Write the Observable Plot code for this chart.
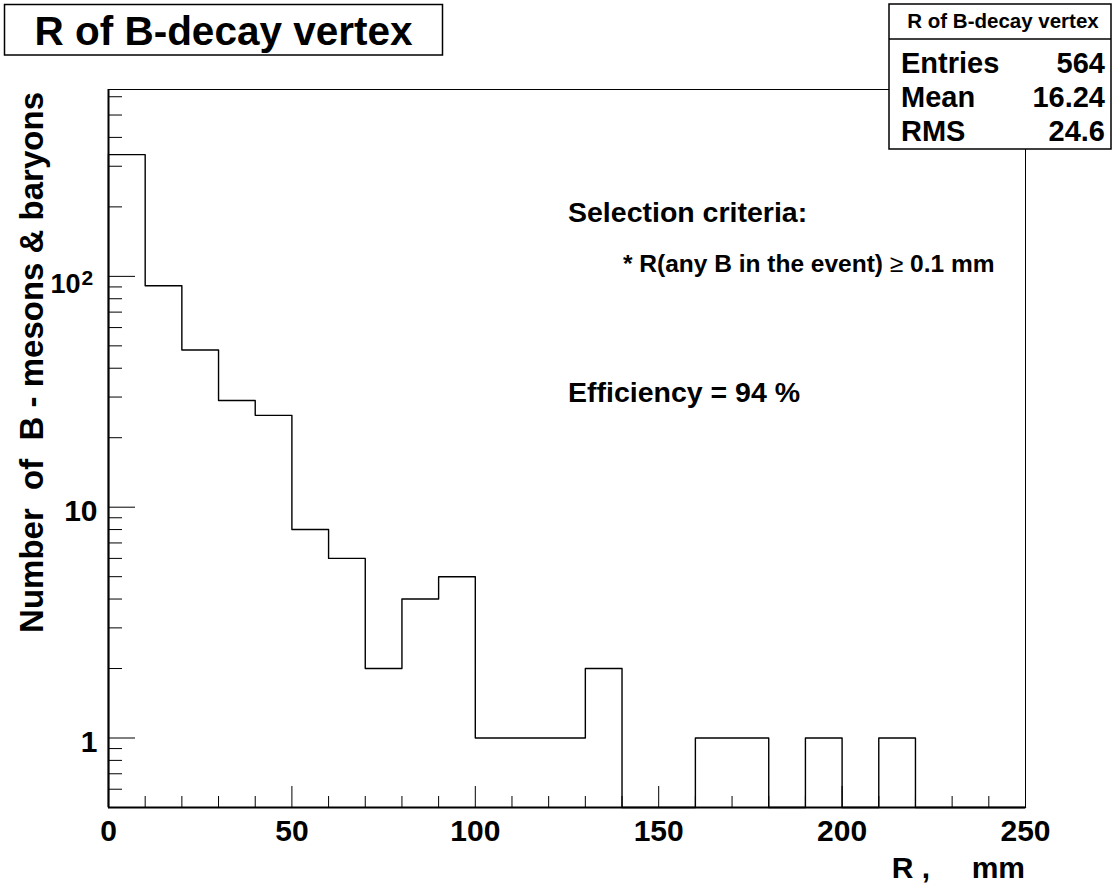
<!DOCTYPE html>
<html><head><meta charset="utf-8">
<script src="https://cdn.jsdelivr.net/npm/d3@7"></script>
<script src="https://cdn.jsdelivr.net/npm/@observablehq/plot@0.6"></script>
<style>body{margin:0;background:#fff} svg{display:block}</style>
</head><body><div id="chart"></div>
<script>
// ---- data ----
const binEdges = [0,10,20,30,40,50,60,70,80,90,100,110,120,130,140,150,160,170,180,190,200,210,220,230,240,250];
const counts   = [337,91,48,29,25,8,6,2,4,5,1,1,1,2,0,0,1,1,0,1,0,1,0,0,0];
const xTickValues = [0,50,100,150,200,250];
const xMinorTicks = [10,20,30,40,60,70,80,90,110,120,130,140,160,170,180,190,210,220,230,240];
const yTickValues = [1,10,100];
const yTickLabels = ["1","10","10"];
const yTickSup    = ["","","2"];
const yMinorTicks = [0.6,0.7,0.8,0.9,2,3,4,5,6,7,8,9,20,30,40,50,60,70,80,90,200,300,400,500,600];
const statsLabels = ["Entries","Mean","RMS"];
const statsValues = ["564","16.24","24.6"];
const titleText = "R of B-decay vertex";
const yLabel = "Number  of  B - mesons & baryons";
const xLabel = "R ,     mm";

// ---- layout ----
const W = 1112, H = 884, mL = 108, mR = 87, mT = 89, mB = 77;
const yMin = 0.5, yMax = 645, xMin = 0, xMax = 250;
const FONT = "'Liberation Sans', Arial, Helvetica, sans-serif";
const pxPerX = (W - mL - mR) / (xMax - xMin);
const pxPerDecade = (H - mT - mB) / Math.log10(yMax / yMin);
const yLen = px => xMin + px / pxPerX;                 // y-tick length in x units
const xLen = px => yMin * Math.pow(10, px / pxPerDecade); // x-tick length in y units

const histPts = [{x: xMin, y: yMin}]
  .concat(counts.map((c, i) => ({x: binEdges[i], y: c > 0 ? c : yMin})))
  .concat([{x: binEdges[binEdges.length - 1], y: yMin}]);

const yTicks = yTickValues.map((v, i) => ({v, label: yTickLabels[i], sup: yTickSup[i]}));

const plot = Plot.plot({
  width: W, height: H,
  marginLeft: mL, marginRight: mR, marginTop: mT, marginBottom: mB,
  style: {fontFamily: FONT, background: "#fff", overflow: "visible"},
  x: {domain: [xMin, xMax], axis: null},
  y: {type: "log", domain: [yMin, yMax], axis: null},
  marks: [
    Plot.frame({stroke: "#000", strokeWidth: 1}),
    Plot.ruleY(yMinorTicks, {y: d => d, x1: xMin, x2: yLen(14), stroke: "#000", strokeWidth: 1}),
    Plot.ruleY(yTickValues, {y: d => d, x1: xMin, x2: yLen(27), stroke: "#000", strokeWidth: 1}),
    Plot.ruleX(xMinorTicks, {x: d => d, y1: yMin, y2: xLen(11), stroke: "#000", strokeWidth: 1}),
    Plot.ruleX(xTickValues, {x: d => d, y1: yMin, y2: xLen(21), stroke: "#000", strokeWidth: 1}),
    Plot.line(histPts, {x: "x", y: "y", curve: "step-after", stroke: "#000", strokeWidth: 1.4}),
    Plot.ruleX([xMin], {stroke: "#000", strokeWidth: 2}),
    Plot.ruleY([yMin], {stroke: "#000", strokeWidth: 2}),
    Plot.text(xTickValues, {x: d => d, y: yMin, text: d => String(d), lineAnchor: "bottom", dy: 33,
      fontSize: 30, fontWeight: "bold", fill: "#000"}),
    Plot.text(yTicks.filter(d => !d.sup), {x: xMin, y: "v", text: "label", textAnchor: "end", lineAnchor: "bottom",
      dx: -11, dy: 14, fontSize: 30, fontWeight: "bold", fill: "#000"}),
    Plot.text(yTicks.filter(d => d.sup), {x: xMin, y: "v", text: "label", textAnchor: "end", lineAnchor: "bottom",
      dx: -28, dy: 17, fontSize: 27, fontWeight: "bold", fill: "#000"}),
    Plot.text(yTicks.filter(d => d.sup), {x: xMin, y: "v", text: "sup", textAnchor: "start", lineAnchor: "bottom",
      dx: -27, dy: 9, fontSize: 21, fontWeight: "bold", fill: "#000"})
  ]
});
document.getElementById("chart").appendChild(plot);

const svg = d3.select(plot);
const addText = (g, x, y, str, size, anchor) => g.append("text")
  .attr("x", x).attr("y", y).attr("text-anchor", anchor || "start")
  .attr("font-family", FONT).attr("font-weight", "bold").attr("font-size", size)
  .attr("fill", "#000").style("white-space", "pre").text(str);

// Title box
const tg = svg.append("g");
tg.append("rect").attr("x", 4.5).attr("y", 4.5).attr("width", 438).attr("height", 50.5)
  .attr("fill", "#fff").attr("stroke", "#000").attr("stroke-width", 1.5);
addText(tg, 223.5, 45, titleText, 40.5, "middle");

// Stats box
const sg = svg.append("g");
sg.append("rect").attr("x", 889).attr("y", 4).attr("width", 222).attr("height", 145)
  .attr("fill", "#fff").attr("stroke", "#000").attr("stroke-width", 1.5);
sg.append("line").attr("x1", 889).attr("x2", 1111).attr("y1", 39).attr("y2", 39)
  .attr("stroke", "#000").attr("stroke-width", 1.5);
addText(sg, 1003, 28, titleText, 20.5, "middle");
const rowY = [73, 107, 141];
statsLabels.forEach((l, i) => {
  addText(sg, 901, rowY[i], l, 29, "start");
  addText(sg, 1105, rowY[i], statsValues[i], 29, "end");
});

// Axis titles
addText(svg, 0, 0, yLabel, 33, "end").attr("transform", "translate(43,92) rotate(-90)");
addText(svg, 1025, 878, xLabel, 30, "end");

// Annotations
addText(svg, 568, 222, "Selection criteria:", 28.5, "start");
const t2 = addText(svg, 623, 272, "", 24.5, "start");
t2.append("tspan").text("* R(any B in the event) ");
t2.append("tspan").attr("font-weight", "normal").text("\u2265");
t2.append("tspan").text(" 0.1 mm");
addText(svg, 568, 402, "Efficiency = 94 %", 28.5, "start");
</script>
</body></html>
